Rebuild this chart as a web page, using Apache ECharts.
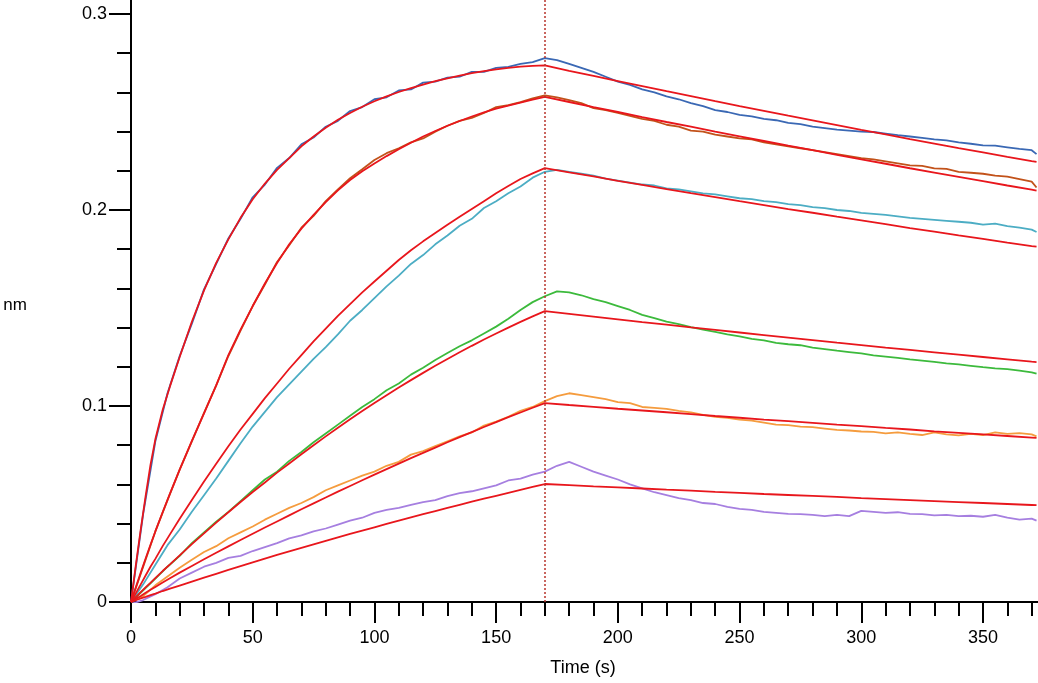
<!DOCTYPE html>
<html>
<head>
<meta charset="utf-8">
<script src="https://cdn.jsdelivr.net/npm/echarts@6/dist/echarts.min.js"></script>
<style>
  html, body { margin: 0; padding: 0; background: #fff; }
  #chart { width: 1038px; height: 683px; }
</style>
</head>
<body>
<div id="chart"></div>
<script>
// time points (s)
const fitTime = [0, 2, 4, 6, 8, 10, 13, 16, 20, 25, 30, 35, 40, 45, 50, 55, 60, 65, 70, 75, 80, 85, 90, 95, 100,
  105, 110, 115, 120, 125, 130, 135, 140, 145, 150, 155, 160, 165, 170,
  180, 190, 200, 210, 220, 230, 240, 250, 260, 270, 280, 290, 300, 310, 320, 330, 340, 350, 360, 370, 372];
const dataTime = [0, 5, 10, 15, 20, 25, 30, 35, 40, 45, 50, 55, 60, 65, 70, 75, 80, 85, 90, 95, 100,
  105, 110, 115, 120, 125, 130, 135, 140, 145, 150, 155, 160, 165, 170,
  175, 180, 185, 190, 195, 200, 205, 210, 215, 220, 225, 230, 235, 240, 245, 250, 255, 260, 265, 270,
  275, 280, 285, 290, 295, 300, 305, 310, 315, 320, 325, 330, 335, 340, 345, 350, 355, 360, 365, 370, 372];

// measured responses (nm)
const blueData = [0, 0.045, 0.082, 0.1065, 0.1255, 0.142, 0.1595, 0.1725, 0.1855, 0.1955,
  0.2065, 0.213, 0.2215, 0.2265, 0.2335, 0.237, 0.2425, 0.2455, 0.2505, 0.2525,
  0.2565, 0.2575, 0.261, 0.2615, 0.265, 0.2655, 0.2675, 0.268, 0.2705, 0.2705,
  0.2725, 0.273, 0.2745, 0.2755, 0.2775,
  0.2765, 0.2745, 0.2725, 0.2705, 0.268, 0.2655, 0.2638, 0.2615, 0.26, 0.258,
  0.2565, 0.2545, 0.253, 0.251, 0.25, 0.2485, 0.2478, 0.2465, 0.2458, 0.2445,
  0.2438, 0.2425, 0.2418, 0.241, 0.2405, 0.24, 0.2398, 0.239, 0.2382, 0.2375,
  0.2368, 0.236, 0.2355, 0.2345, 0.2338, 0.233, 0.2328, 0.232, 0.2312, 0.2305, 0.2285];
const brownData = [0, 0.018, 0.036, 0.052, 0.0675, 0.082, 0.0965, 0.1105, 0.1255, 0.1385,
  0.151, 0.162, 0.1735, 0.182, 0.191, 0.197, 0.2045, 0.2105, 0.2162, 0.2208,
  0.2255, 0.229, 0.2315, 0.2345, 0.2365, 0.24, 0.243, 0.2455, 0.247, 0.2495,
  0.2525, 0.2535, 0.255, 0.257, 0.2585,
  0.2575, 0.256, 0.2545, 0.252, 0.251, 0.2495, 0.248, 0.2465, 0.2455, 0.2435,
  0.2425, 0.2405, 0.24, 0.2385, 0.2375, 0.2365, 0.236, 0.2345, 0.2335, 0.2325,
  0.2315, 0.2305, 0.2295, 0.2285, 0.2275, 0.2265, 0.2258, 0.2248, 0.2238, 0.2228,
  0.2225, 0.2212, 0.221, 0.2195, 0.219, 0.2185, 0.2175, 0.217, 0.2158, 0.2145, 0.2115];
const tealData = [0, 0.009, 0.019, 0.029, 0.037, 0.046, 0.0545, 0.063, 0.072, 0.081,
  0.0895, 0.097, 0.1045, 0.111, 0.1175, 0.124, 0.13, 0.1365, 0.1435, 0.149,
  0.155, 0.161, 0.1665, 0.1725, 0.177, 0.1825, 0.187, 0.192, 0.1955, 0.201,
  0.2045, 0.2085, 0.212, 0.2165, 0.2195,
  0.2205, 0.2195, 0.2185, 0.2175, 0.216, 0.215, 0.214, 0.213, 0.2125, 0.211,
  0.2105, 0.2095, 0.2085, 0.208, 0.207, 0.206, 0.2055, 0.2045, 0.204, 0.203,
  0.2025, 0.2015, 0.201, 0.2, 0.1995, 0.1985, 0.198, 0.1975, 0.1968, 0.196,
  0.1955, 0.195, 0.1945, 0.194, 0.1935, 0.1925, 0.193, 0.1918, 0.191, 0.19, 0.1888];
const greenData = [0, 0.006, 0.012, 0.018, 0.0235, 0.03, 0.0355, 0.041, 0.046, 0.0515,
  0.057, 0.0625, 0.0665, 0.072, 0.0765, 0.0815, 0.086, 0.0905, 0.095, 0.0995,
  0.1035, 0.108, 0.1115, 0.116, 0.1195, 0.1235, 0.127, 0.1305, 0.1335, 0.137,
  0.1405, 0.1445, 0.149, 0.153, 0.156,
  0.1585, 0.158, 0.1565, 0.1545, 0.153, 0.151, 0.149, 0.1465, 0.1448, 0.143,
  0.1418, 0.1402, 0.139, 0.1378, 0.1365, 0.1355, 0.1342, 0.1335, 0.1322, 0.1315,
  0.131, 0.1298, 0.129, 0.1282, 0.1275, 0.1268, 0.1258, 0.1252, 0.1245, 0.1238,
  0.1232, 0.1225, 0.1218, 0.1212, 0.1205, 0.1198, 0.1192, 0.1188, 0.118, 0.1172, 0.1165];
const orangeData = [0, 0.003, 0.0085, 0.013, 0.0175, 0.0215, 0.0255, 0.0285, 0.0325, 0.0355,
  0.0385, 0.042, 0.045, 0.048, 0.0505, 0.0535, 0.057, 0.0595, 0.062, 0.0645,
  0.0665, 0.0695, 0.0715, 0.0752, 0.077, 0.0795, 0.082, 0.0845, 0.0865, 0.09,
  0.092, 0.0945, 0.0975, 0.0995, 0.1025,
  0.105, 0.1065, 0.1055, 0.1045, 0.1035, 0.102, 0.1015, 0.0995, 0.099, 0.0985,
  0.0975, 0.0968, 0.0955, 0.0945, 0.094, 0.093, 0.0925, 0.0915, 0.0905, 0.0902,
  0.0895, 0.0892, 0.0885, 0.0878, 0.0875, 0.087, 0.0868, 0.086, 0.0865, 0.0858,
  0.0852, 0.0865, 0.0855, 0.085, 0.0858, 0.0852, 0.0865, 0.0858, 0.0862, 0.0855, 0.0845];
const purpleData = [-0.001, 0.001, 0.004, 0.0075, 0.012, 0.015, 0.018, 0.02, 0.0225, 0.0235,
  0.026, 0.028, 0.03, 0.0325, 0.034, 0.036, 0.0375, 0.0395, 0.0415, 0.043,
  0.0455, 0.047, 0.048, 0.0495, 0.051, 0.052, 0.054, 0.0555, 0.0565, 0.058,
  0.0595, 0.062, 0.063, 0.065, 0.0665,
  0.0695, 0.0715, 0.069, 0.0665, 0.0645, 0.0625, 0.06, 0.058, 0.056, 0.0545,
  0.053, 0.052, 0.0505, 0.05, 0.0485, 0.0475, 0.047, 0.046, 0.0455, 0.045,
  0.0448, 0.0445, 0.0438, 0.0445, 0.0438, 0.0465, 0.046, 0.0455, 0.0458, 0.045,
  0.0448, 0.0442, 0.0445, 0.0438, 0.044, 0.0435, 0.0445, 0.043, 0.042, 0.0425, 0.0415];

// global fit curves (nm)
const fit1 = [0, 0.019, 0.037, 0.054, 0.07, 0.083, 0.098, 0.11, 0.125,
  0.143, 0.159, 0.173, 0.185, 0.196, 0.2055, 0.2135, 0.2205, 0.2265, 0.2325,
  0.2375, 0.242, 0.246, 0.2495, 0.2527, 0.2555, 0.258, 0.2602, 0.2622, 0.264,
  0.2657, 0.2672, 0.2686, 0.2698, 0.2709, 0.2718, 0.2725, 0.2731, 0.2735, 0.2738,
  0.271, 0.2684, 0.2658, 0.2632, 0.2606, 0.2581, 0.2555, 0.253, 0.2506, 0.2481,
  0.2457, 0.2433, 0.2409, 0.2386, 0.2362, 0.2339, 0.2316, 0.2294, 0.2271, 0.2249, 0.2245];
const fit2 = [0, 0.0076, 0.015, 0.0222, 0.0292, 0.036, 0.0458, 0.0553, 0.0675,
  0.0822, 0.0962, 0.1105, 0.126, 0.139, 0.151, 0.1625, 0.173, 0.1825, 0.1905,
  0.1975, 0.204, 0.21, 0.2153, 0.2198, 0.2237, 0.2275, 0.231, 0.2343, 0.2375,
  0.2403, 0.243, 0.2454, 0.2477, 0.2498, 0.2517, 0.2533, 0.2548, 0.2563, 0.2577,
  0.2551, 0.2525, 0.25, 0.2474, 0.2449, 0.2425, 0.24, 0.2376, 0.2352, 0.2328,
  0.2305, 0.2281, 0.2258, 0.2236, 0.2213, 0.2191, 0.2169, 0.2147, 0.2125, 0.2104, 0.2099];
const fit3 = [0, 0.0045, 0.009, 0.0135, 0.018, 0.022, 0.0285, 0.0345, 0.0425,
  0.052, 0.0615, 0.0705, 0.0795, 0.088, 0.096, 0.104, 0.1115, 0.119, 0.126,
  0.133, 0.1395, 0.146, 0.152, 0.158, 0.1635, 0.169, 0.1745, 0.1795, 0.184,
  0.1883, 0.1925, 0.1965, 0.2005, 0.2045, 0.2085, 0.2122, 0.2158, 0.2187, 0.2214,
  0.2192, 0.2171, 0.2149, 0.2128, 0.2107, 0.2086, 0.2066, 0.2045, 0.2025, 0.2005,
  0.1986, 0.1966, 0.1947, 0.1928, 0.1908, 0.189, 0.1871, 0.1853, 0.1834, 0.1816, 0.1813];
const fit4 = [0, 0.0025, 0.005, 0.0075, 0.0098, 0.0122, 0.0158, 0.0192, 0.0238,
  0.0295, 0.035, 0.0405, 0.0458, 0.051, 0.0561, 0.061, 0.066, 0.0707, 0.0754,
  0.08, 0.0845, 0.0889, 0.0932, 0.0974, 0.1015, 0.1055, 0.1094, 0.1132, 0.1169,
  0.1205, 0.124, 0.1274, 0.1307, 0.1339, 0.137, 0.14, 0.1429, 0.1457, 0.1484,
  0.147, 0.1456, 0.1442, 0.1428, 0.1415, 0.1401, 0.1388, 0.1375, 0.1362, 0.1349,
  0.1336, 0.1323, 0.1311, 0.1298, 0.1286, 0.1274, 0.1262, 0.125, 0.1238, 0.1226, 0.1224];
const fit5 = [0, 0.0016, 0.0031, 0.0047, 0.0062, 0.0077, 0.0099, 0.0121, 0.015,
  0.0184, 0.0218, 0.0251, 0.0284, 0.0316, 0.0348, 0.038, 0.0411, 0.0442, 0.0473,
  0.0503, 0.0533, 0.0563, 0.0592, 0.0621, 0.065, 0.0678, 0.0706, 0.0734, 0.0761,
  0.0788, 0.0815, 0.0841, 0.0867, 0.0893, 0.0918, 0.0943, 0.0967, 0.0991, 0.1015,
  0.1005, 0.0996, 0.0986, 0.0977, 0.0968, 0.0959, 0.0949, 0.094, 0.0931, 0.0923,
  0.0914, 0.0905, 0.0897, 0.0888, 0.088, 0.0871, 0.0863, 0.0855, 0.0847, 0.0839, 0.0837];
const fit6 = [0, 0.0009, 0.0018, 0.0026, 0.0035, 0.0043, 0.0056, 0.0068, 0.0084,
  0.0104, 0.0124, 0.0144, 0.0164, 0.0183, 0.0202, 0.0221, 0.024, 0.0258, 0.0276,
  0.0294, 0.0312, 0.033, 0.0347, 0.0364, 0.0381, 0.0398, 0.0415, 0.0432, 0.0448,
  0.0464, 0.048, 0.0496, 0.0512, 0.0527, 0.0542, 0.0557, 0.0572, 0.0587, 0.0602,
  0.0596, 0.059, 0.0585, 0.0579, 0.0573, 0.0568, 0.0562, 0.0557, 0.0551, 0.0546,
  0.0541, 0.0536, 0.053, 0.0525, 0.052, 0.0515, 0.051, 0.0505, 0.05, 0.0495, 0.0494];

const dissocStart = 170;

const dataSets = [blueData, brownData, tealData, greenData, orangeData, purpleData];
const dataColors = ['#3a68b4', '#c2521a', '#4cadc4', '#3cba3c', '#f59c3e', '#a67fe0'];
const fitSets = [fit1, fit2, fit3, fit4, fit5, fit6];

const pairs = (ts, vs) => ts.map((t, i) => [t, vs[i]]);

const series = [];
dataSets.forEach((d, i) => {
  series.push({
    type: 'line',
    data: pairs(dataTime, d),
    showSymbol: false,
    lineStyle: { color: dataColors[i], width: 1.8 },
    z: 2
  });
});
fitSets.forEach((f, i) => {
  const s = {
    type: 'line',
    data: pairs(fitTime, f),
    showSymbol: false,
    lineStyle: { color: '#e8161c', width: 1.8 },
    z: 3
  };
  if (i === 0) {
    s.markLine = {
      silent: true,
      symbol: 'none',
      label: { show: false },
      lineStyle: { color: '#b8342c', width: 1.5, type: [2, 2] },
      data: [{ xAxis: dissocStart }]
    };
  }
  series.push(s);
});

const font = 'Liberation Sans, Arial, sans-serif';
const chart = echarts.init(document.getElementById('chart'));
chart.setOption({
  animation: false,
  // axes run past the canvas on the top and right so that the plot ends at ~0.307 nm and ~372 s
  grid: { left: 131, right: -66.7, top: -182, bottom: 81, outerBoundsMode: 'none', containLabel: false },
  graphic: [
    { type: 'text', x: 583, y: 668, style: { text: 'Time (s)', fill: '#000', font: '18px ' + font, align: 'center', verticalAlign: 'middle' } },
    { type: 'text', x: 15, y: 305, style: { text: 'nm', fill: '#000', font: '17px ' + font, align: 'center', verticalAlign: 'middle' } }
  ],
  xAxis: {
    type: 'value', min: 0, max: 400, interval: 50,
    axisLine: { lineStyle: { color: '#000', width: 2 } },
    axisTick: { length: 21, lineStyle: { color: '#000', width: 2 } },
    minorTick: { show: true, splitNumber: 5, length: 14, lineStyle: { color: '#000', width: 2 } },
    splitLine: { show: false },
    axisLabel: { fontSize: 18, color: '#000', margin: 27, fontFamily: font }
  },
  yAxis: {
    type: 'value', min: 0, max: 0.4, interval: 0.1,
    axisLine: { show: true, lineStyle: { color: '#000', width: 2 } },
    axisTick: { show: true, length: 22, lineStyle: { color: '#000', width: 2 } },
    minorTick: { show: true, splitNumber: 5, length: 14, lineStyle: { color: '#000', width: 2 } },
    splitLine: { show: false },
    axisLabel: { fontSize: 18, color: '#000', margin: 24, fontFamily: font }
  },
  series: series
});
</script>
</body>
</html>
